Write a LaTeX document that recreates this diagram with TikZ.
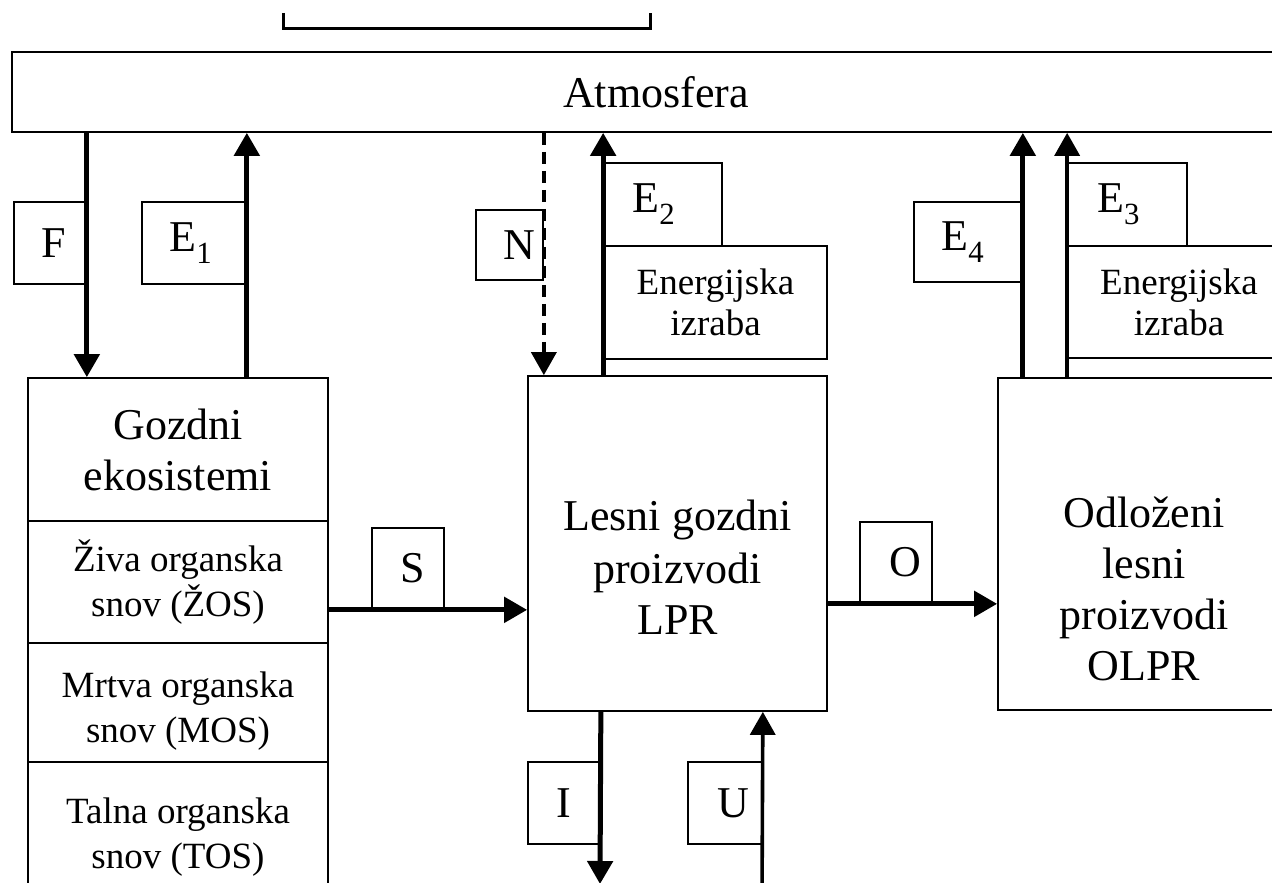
\documentclass[tikz,border=0pt]{standalone}
\usepackage{fontspec}
\setmainfont{Liberation Serif}
\usetikzlibrary{arrows.meta}
\begin{document}
\begin{tikzpicture}[x=1pt,y=-1pt,
  bx/.style={draw, line width=1.7pt, inner sep=0pt},
  big/.style={align=center, font=\fontsize{44}{51}\selectfont},
  sm/.style={align=center, font=\fontsize{37}{45}\selectfont},
  smb/.style={align=center, font=\fontsize{37}{41}\selectfont},
  lbl/.style={bx, font=\fontsize{44}{50}\selectfont},
  flow/.style={line width=5pt, -{Triangle[length=23pt,width=25pt]}},
  thinflow/.style={flow, line width=3.6pt},
]
\useasboundingbox (0,0) rectangle (1272,883);
\clip (0,0) rectangle (1272,883);

% top bracket
\draw[line width=3pt] (283,13) -- (283,29) -- (650,29) -- (650,13);

% Atmosfera
\node[bx, big, minimum width=1288pt, minimum height=80pt] (atm) at (656,92) {\raisebox{-5pt}{Atmosfera}};

% Gozdni ekosistemi column
\node[bx, big, minimum width=300pt, minimum height=143pt] (gozA) at (178,449.5) {Gozdni\\ekosistemi};
\node[bx, sm, minimum width=300pt, minimum height=122pt] (gozB) at (178,582) {Živa organska\\snov (ŽOS)};
\node[bx, sm, minimum width=300pt, minimum height=119pt] (gozC) at (178,702.5) {\rule{0pt}{42pt}Mrtva organska\\snov (MOS)};
\node[bx, sm, minimum width=300pt, minimum height=124pt] (gozD) at (178,824) {\rule{0pt}{52pt}Talna organska\\snov (TOS)};

% LPR and OLPR
\node[bx, big, minimum width=299pt, minimum height=335pt] (lpr) at (677.5,543.5) {\rule{0pt}{78pt}Lesni gozdni\\[2pt]proizvodi\\LPR};
\node[bx, big, minimum width=292pt, minimum height=332pt] (olpr) at (1144,544) {\rule{0pt}{120pt}Odloženi\\lesni\\proizvodi\\OLPR};

% energy boxes
\node[bx, smb, minimum width=223pt, minimum height=113pt] (en2) at (715.5,302.5) {Energijska\\izraba};
\node[bx, smb, minimum width=222pt, minimum height=112pt] (en3) at (1179,302) {Energijska\\izraba};

% flow labels
\node[lbl, minimum width=72pt, minimum height=82pt] (F) at (50,243) {\kern8pt F};
\node[lbl, minimum width=104pt, minimum height=82pt] (E1) at (194,243) {E\textsubscript{1}\kern6pt};
\node[lbl, minimum width=67pt, minimum height=70pt] (N) at (509.5,245) {\kern20pt N};
\node[lbl, minimum width=118pt, minimum height=83pt] (E2) at (663,204.5) {E\textsubscript{2}\kern18pt};
\node[lbl, minimum width=108pt, minimum height=80pt] (E4) at (968,242) {E\textsubscript{4}\kern10pt};
\node[lbl, minimum width=119pt, minimum height=83pt] (E3) at (1127.5,204.5) {E\textsubscript{3}\kern18pt};
\node[lbl, minimum width=72pt, minimum height=81pt] (S) at (408,568.5) {\kern10pt S};
\node[lbl, minimum width=72pt, minimum height=81pt] (O) at (896,562.5) {\kern18pt O};
\node[lbl, minimum width=72pt, minimum height=82pt] (I) at (564,803) {I};
\node[lbl, minimum width=74pt, minimum height=82pt] (U) at (725,803) {\kern16pt U};

\coordinate (Iend) at (600,884);
\coordinate (Ustart) at (762,900);

% connectors
\draw[flow] (atm.south -| F.east) -- (gozA.north -| F.east);
\draw[flow] (gozA.north -| E1.east) -- (atm.south -| E1.east);
\draw[thinflow, dash pattern=on 12pt off 7pt] (atm.south -| N.east) -- (lpr.north -| N.east);
\draw[flow] (lpr.north -| E2.west) -- (atm.south -| E2.west);
\draw[flow] (olpr.north -| E4.east) -- (atm.south -| E4.east);
\draw[thinflow] (olpr.north -| E3.west) -- (atm.south -| E3.west);
\draw[flow] (gozB.east |- S.south) -- (lpr.west |- S.south);
\draw[flow] (lpr.east |- O.south) -- (olpr.west |- O.south);
\draw[flow] (lpr.south -| I.east) -- (Iend);
\draw[thinflow] (Ustart) -- (lpr.south -| U.east);
\end{tikzpicture}
\end{document}
